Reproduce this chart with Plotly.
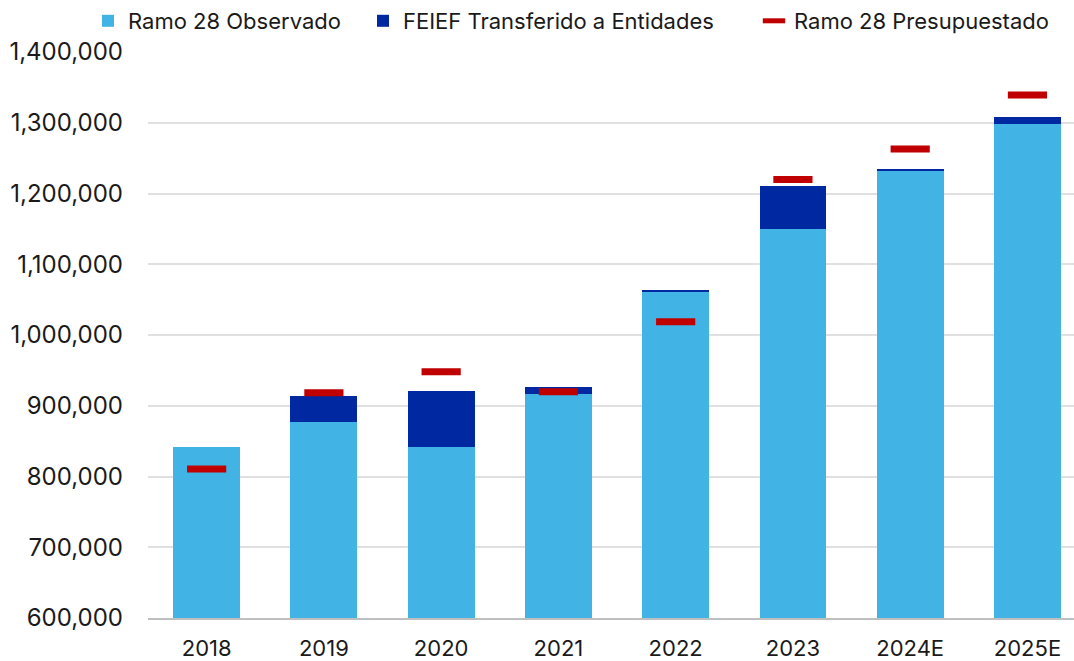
import plotly.graph_objects as go

categories = ["2018", "2019", "2020", "2021", "2022", "2023", "2024E", "2025E"]
ramo28_observado = [842300, 877700, 842300, 916600, 1061200, 1149200, 1232200, 1298600]
feief_transferido = [0, 36500, 78000, 10400, 2800, 61600, 2400, 9400]
ramo28_presupuestado = [810600, 918400, 948200, 919900, 1018900, 1219900, 1263000, 1339300]
y_ticks = [600000, 700000, 800000, 900000, 1000000, 1100000, 1200000, 1300000, 1400000]

FONT = "Inter, Liberation Sans, Arial, sans-serif"

fig = go.Figure()
fig.add_trace(go.Bar(
    x=categories, y=ramo28_observado, name="Ramo 28 Observado",
    marker=dict(color="#41B4E5", line=dict(width=0)), legend="legend",
))
fig.add_trace(go.Bar(
    x=categories, y=feief_transferido, name="FEIEF Transferido a Entidades",
    marker=dict(color="#0028A0", line=dict(width=0)), legend="legend2",
))
fig.add_trace(go.Scatter(
    x=categories, y=ramo28_presupuestado, name="Ramo 28 Presupuestado",
    mode="markers", legend="legend3",
    marker=dict(symbol="line-ew", size=28, line=dict(color="#C00000", width=7)),
))

def leg(xpos):
    return dict(
        orientation="h", xref="container", yref="container",
        x=xpos, xanchor="left", y=1.0, yanchor="top",
        font=dict(size=22, family=FONT, color="#1a1a1a"),
        itemwidth=30, bgcolor="rgba(0,0,0,0)",
    )

fig.update_layout(
    width=1074, height=661,
    barmode="stack", bargap=0.43,
    plot_bgcolor="white", paper_bgcolor="white",
    margin=dict(l=148, r=0, t=52, b=43, autoexpand=False),
    font=dict(family=FONT, size=22, color="#1a1a1a"),
    showlegend=True,
    legend=leg(88 / 1074),
    legend2=leg(363 / 1074),
    legend3=leg(754 / 1074),
    xaxis=dict(
        range=[-0.5, 7.397], showgrid=False, showline=True,
        linecolor="#bfbfbf", linewidth=1.5, ticks="",
        ticklabelstandoff=10,
        tickfont=dict(size=22, family=FONT, color="#1a1a1a"),
    ),
    yaxis=dict(
        range=[600000, 1400000], tickvals=y_ticks, tickformat=",d",
        showgrid=True, gridcolor="#e0e0e0", gridwidth=1.5,
        zeroline=False, ticks="", ticklen=0,
        ticklabelstandoff=24,
        tickfont=dict(size=24, family=FONT, color="#1a1a1a"),
    ),
)

fig.write_html(
    "out.html",
    config={"displayModeBar": False},
    post_script="document.body.style.margin='0';document.body.style.overflow='hidden';",
)
